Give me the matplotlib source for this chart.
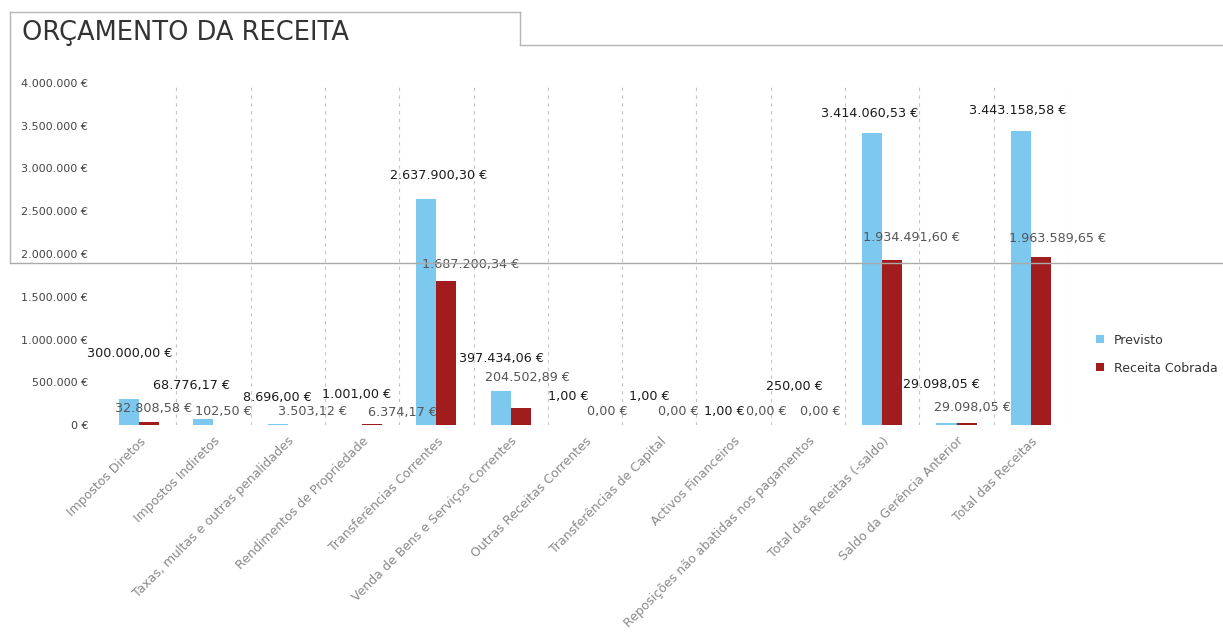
import matplotlib
matplotlib.use("Agg")
import matplotlib.pyplot as plt
import numpy as np
from matplotlib.ticker import FuncFormatter, FixedLocator
from matplotlib.lines import Line2D

categorias = ["Impostos Diretos", "Impostos Indiretos", "Taxas, multas e outras penalidades",
              "Rendimentos de Propriedade", "Transferências Correntes",
              "Venda de Bens e Serviços Correntes", "Outras Receitas Correntes",
              "Transferências de Capital", "Activos Financeiros",
              "Reposições não abatidas nos pagamentos", "Total das Receitas (-saldo)",
              "Saldo da Gerência Anterior", "Total das Receitas"]
previsto = [300000.00, 68776.17, 8696.00, 1001.00, 2637900.30, 397434.06, 1.00, 1.00,
            1.00, 250.00, 3414060.53, 29098.05, 3443158.58]
cobrado = [32808.58, 102.50, 3503.12, 6374.17, 1687200.34, 204502.89, 0.00, 0.00,
           0.00, 0.00, 1934491.60, 29098.05, 1963589.65]
y_ticks = [0, 500000, 1000000, 1500000, 2000000, 2500000, 3000000, 3500000, 4000000]

# label offsets in pixels (dx, dy) from each bar top
off_prev = [(1, 46), (-12, 34), (0, 27), (5, 30), (12, 24), (1, 33), (-7, 28), (0, 28),
            (1, 13), (-4, 38), (-3, 20), (-5, 38), (-3, 20)]
off_cob = [(4, 14), (0, 13), (15, 13), (30, 12), (24, 16), (7, 30), (12, 13), (9, 13),
           (23, 13), (2, 13), (19, 22), (6, 15), (17, 19)]

AZUL = "#7cc8ef"
VERM = "#a11d1d"


def euro(v, dec=2):
    s = f"{v:,.{dec}f}".replace(",", "X").replace(".", ",").replace("X", ".")
    return s + " €"


fig = plt.figure(figsize=(12.23, 6.34), dpi=100)
ax = fig.add_axes([102 / 1223, 1 - 425 / 634, 966 / 1223, (425 - 83) / 634])

x = np.arange(len(categorias))
w = 0.27
b1 = ax.bar(x - w / 2, previsto, w, color=AZUL, label="Previsto")
b2 = ax.bar(x + w / 2, cobrado, w, color=VERM, label="Receita Cobrada")

for i in range(len(x)):
    ax.annotate(euro(previsto[i]), (x[i] - w / 2, previsto[i]), xytext=off_prev[i],
                textcoords="offset pixels", ha="center", va="center",
                fontsize=9.2, color="#1a1a1a")
    ax.annotate(euro(cobrado[i]), (x[i] + w / 2, cobrado[i]), xytext=off_cob[i],
                textcoords="offset pixels", ha="center", va="center",
                fontsize=9.2, color="#555555")

ax.set_xlim(-0.5, len(x) - 0.5)
ax.set_ylim(0, 4000000)
ax.set_yticks(y_ticks)
ax.yaxis.set_major_formatter(FuncFormatter(lambda v, p: euro(v, 0)))
ax.tick_params(axis="y", length=0, pad=10, labelsize=8, labelcolor="#444444")
ax.set_xticks(x)
ax.set_xticklabels(categorias, rotation=45, ha="right", rotation_mode="anchor",
                   fontsize=9, color="#8a8a8a")
ax.tick_params(axis="x", length=0, pad=7)
ax.xaxis.set_minor_locator(FixedLocator(x + 0.5))
ax.tick_params(axis="x", which="minor", length=0)
ax.grid(axis="x", which="minor", color="#c4c4c4", linestyle=(0, (3, 4)), linewidth=0.8)
ax.set_axisbelow(True)
for s in ax.spines.values():
    s.set_visible(False)

ax.legend(loc="center left", bbox_to_anchor=(1085 / 1223, 1 - 354 / 634),
          bbox_transform=fig.transFigure, frameon=False, fontsize=9,
          handlelength=0.6, handleheight=0.6, labelspacing=1.2, labelcolor="#333333")

fig.text(22 / 1223, 1 - 33 / 634, "ORÇAMENTO DA RECEITA", fontsize=18.5,
         color="#333333", va="center", ha="left")

# frame lines of the page
def fline(x0, y0, x1, y1, c="#b5b5b5"):
    fig.add_artist(Line2D([x0 / 1223, x1 / 1223], [1 - y0 / 634, 1 - y1 / 634],
                          color=c, linewidth=1.0, transform=fig.transFigure))

fline(10, 12, 520, 12)
fline(520, 12, 520, 45)
fline(520, 45, 1223, 45)
fline(10, 12, 10, 263)
fline(10, 263, 1223, 263, "#aaaaaa")

fig.savefig("out.png", dpi=100)
